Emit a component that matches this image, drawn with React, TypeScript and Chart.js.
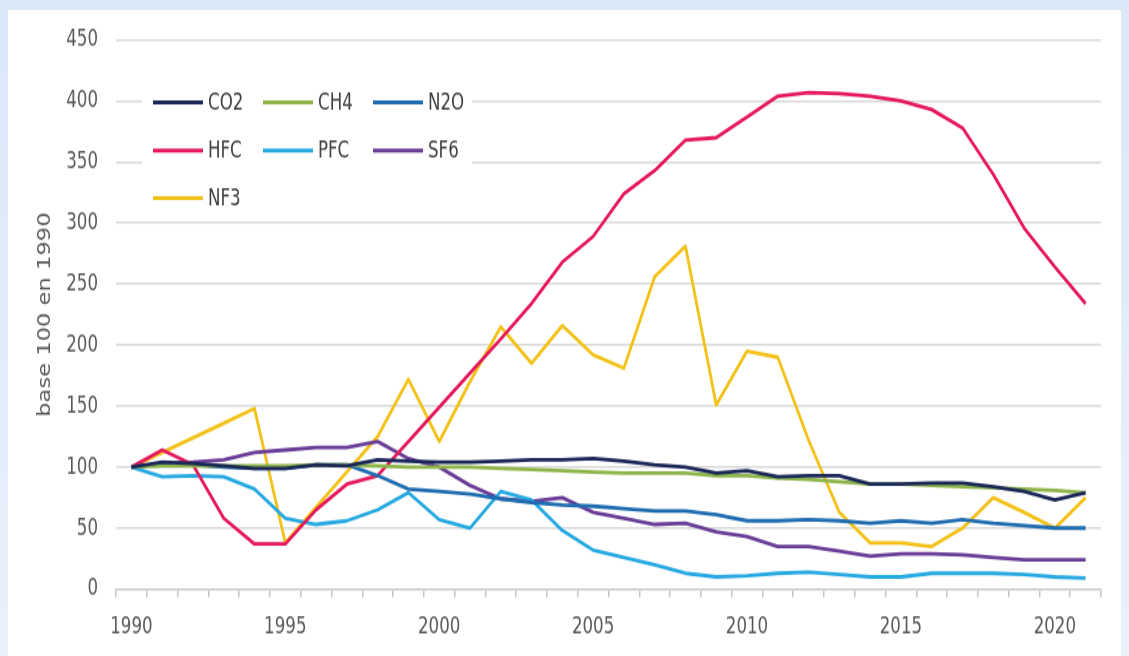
import React, { useEffect, useRef } from 'react';
import { Chart, registerables } from 'chart.js';

Chart.register(...registerables);

// ---- data (base 100 in 1990) ----
const years = [
  '1990', '1991', '1992', '1993', '1994', '1995', '1996', '1997', '1998', '1999',
  '2000', '2001', '2002', '2003', '2004', '2005', '2006', '2007', '2008', '2009',
  '2010', '2011', '2012', '2013', '2014', '2015', '2016', '2017', '2018', '2019',
  '2020', '2021',
];

const co2 = [100, 104, 103, 101, 99, 99, 102, 101, 106, 105, 104, 104, 105, 106, 106, 107, 105, 102, 100, 95, 97, 92, 93, 93, 86, 86, 87, 87, 84, 80, 73, 79];
const ch4 = [100, 101, 101, 101, 101, 101, 102, 102, 101, 100, 100, 100, 99, 98, 97, 96, 95, 95, 95, 93, 93, 91, 90, 88, 86, 86, 85, 84, 83, 82, 81, 79];
const n2o = [100, 103, 102, 100, 99, 99, 102, 102, 93, 82, 80, 78, 74, 71, 69, 68, 66, 64, 64, 61, 56, 56, 57, 56, 54, 56, 54, 57, 54, 52, 50, 50];
const hfc = [100, 114, 102, 58, 37, 37, 65, 86, 93, 121, 149, 177, 205, 234, 268, 289, 324, 343, 368, 370, 387, 404, 407, 406, 404, 400, 393, 378, 340, 296, 264, 234];
const pfc = [100, 92, 93, 92, 82, 58, 53, 56, 65, 79, 57, 50, 80, 73, 48, 32, 26, 20, 13, 10, 11, 13, 14, 12, 10, 10, 13, 13, 13, 12, 10, 9];
const sf6 = [100, 103, 104, 106, 112, 114, 116, 116, 121, 107, 100, 85, 74, 72, 75, 63, 58, 53, 54, 47, 43, 35, 35, 31, 27, 29, 29, 28, 26, 24, 24, 24];
const nf3 = [100, 112, 124, 136, 148, 38, 67, 96, 125, 172, 121, 170, 215, 185, 216, 192, 181, 256, 281, 151, 195, 190, 122, 63, 38, 38, 35, 50, 75, 63, 50, 75];

const seriesNames = ['CO2', 'CH4', 'N2O', 'HFC', 'PFC', 'SF6', 'NF3'];
const seriesColors = ['#1b2857', '#8db54a', '#1f6db0', '#e5195b', '#27a9e1', '#6a3d97', '#f2c21a'];
const seriesValues = [co2, ch4, n2o, hfc, pfc, sf6, nf3];

const yTitle = 'base 100 en 1990';
const yMin = 0;
const yMax = 450;
const yStep = 50;

// The reference image is stretched vertically; the canvas bitmap is drawn
// shorter and displayed at full height to reproduce the tall, narrow type.
const BOX_W = 1113;
const BOX_H = 646;
const STRETCH = 1.329;
const BMP_H = Math.round(BOX_H / STRETCH);

const NARROW = '"DejaVu Sans Condensed", "DejaVu Sans", sans-serif';

const insideLegend = {
  id: 'insideLegend',
  beforeDatasetsDraw(chart: any) {
    const ctx = chart.ctx;
    ctx.save();
    ctx.fillStyle = '#ffffff';
    ctx.fillRect(134, 75 / STRETCH, 330, 128 / STRETCH);
    const cols = [145, 255, 365];
    const rows = [92.5 / STRETCH, 140.5 / STRETCH, 188 / STRETCH];
    chart.data.datasets.forEach((ds: any, i: number) => {
      const x = cols[i % 3];
      const y = rows[Math.floor(i / 3)];
      ctx.strokeStyle = ds.borderColor;
      ctx.lineWidth = 3;
      ctx.lineCap = 'butt';
      ctx.beginPath();
      ctx.moveTo(x, y);
      ctx.lineTo(x + 50, y);
      ctx.stroke();
      ctx.fillStyle = '#404040';
      ctx.font = `18.5px ${NARROW}`;
      ctx.textBaseline = 'middle';
      ctx.textAlign = 'left';
      ctx.fillText(ds.label, x + 55, y + 0.5);
    });
    ctx.restore();
  },
};

export default function App() {
  const canvasRef = useRef<HTMLCanvasElement | null>(null);

  useEffect(() => {
    if (!canvasRef.current) return;
    const chart = new Chart(canvasRef.current, {
      type: 'line',
      data: {
        labels: years,
        datasets: seriesNames.map((name, i) => ({
          label: name,
          data: seriesValues[i],
          borderColor: seriesColors[i],
          backgroundColor: seriesColors[i],
          borderWidth: 2.8,
          pointRadius: 0,
          fill: false,
          tension: 0,
          borderJoinStyle: 'round' as const,
        })),
      },
      options: {
        animation: false,
        responsive: false,
        devicePixelRatio: 1,
        layout: { padding: { top: 30 / STRETCH, right: 20, left: 0, bottom: 0 } },
        plugins: {
          legend: { display: false },
          tooltip: { enabled: false },
        },
        scales: {
          x: {
            type: 'category',
            offset: true,
            grid: {
              display: true,
              drawOnChartArea: false,
              drawTicks: true,
              tickLength: 6,
              offset: true,
              color: '#c4c4c4',
              lineWidth: 1.5,
            },
            border: { display: true, color: '#cfcfcf', width: 1.5 },
            ticks: {
              autoSkip: false,
              maxRotation: 0,
              padding: 11,
              color: '#595959',
              font: { family: NARROW, size: 18.5 },
              callback: (_v: any, idx: number) => (Number(years[idx]) % 5 === 0 ? years[idx] : ''),
            },
            afterFit: (scale: any) => {
              scale.height = BMP_H - 579 / STRETCH;
            },
          },
          y: {
            min: yMin,
            max: yMax,
            ticks: {
              stepSize: yStep,
              padding: 18,
              color: '#595959',
              font: { family: NARROW, size: 18.5 },
            },
            grid: { color: '#d9d9d9', lineWidth: 1.6, drawTicks: false },
            border: { display: false },
            title: {
              display: true,
              text: yTitle,
              color: '#595959',
              font: { family: '"DejaVu Sans", sans-serif', size: 17 },
              padding: { top: 27, bottom: 0 },
            },
            afterFit: (scale: any) => {
              scale.width = 108;
              scale.paddingTop = 0;
              scale.paddingBottom = 0;
            },
          },
        },
      },
      plugins: [insideLegend],
    });
    return () => chart.destroy();
  }, []);

  return (
    <div style={{ position: 'fixed', inset: 0, background: 'linear-gradient(180deg, #dbe8f8 0%, #e9f1fb 100%)' }}>
      <div style={{ position: 'absolute', left: 8, top: 10, width: BOX_W, height: BOX_H, background: '#ffffff' }}>
        <canvas
          ref={canvasRef}
          width={BOX_W}
          height={BMP_H}
          style={{ display: 'block', width: BOX_W + 'px', height: BOX_H + 'px' }}
        />
      </div>
    </div>
  );
}
